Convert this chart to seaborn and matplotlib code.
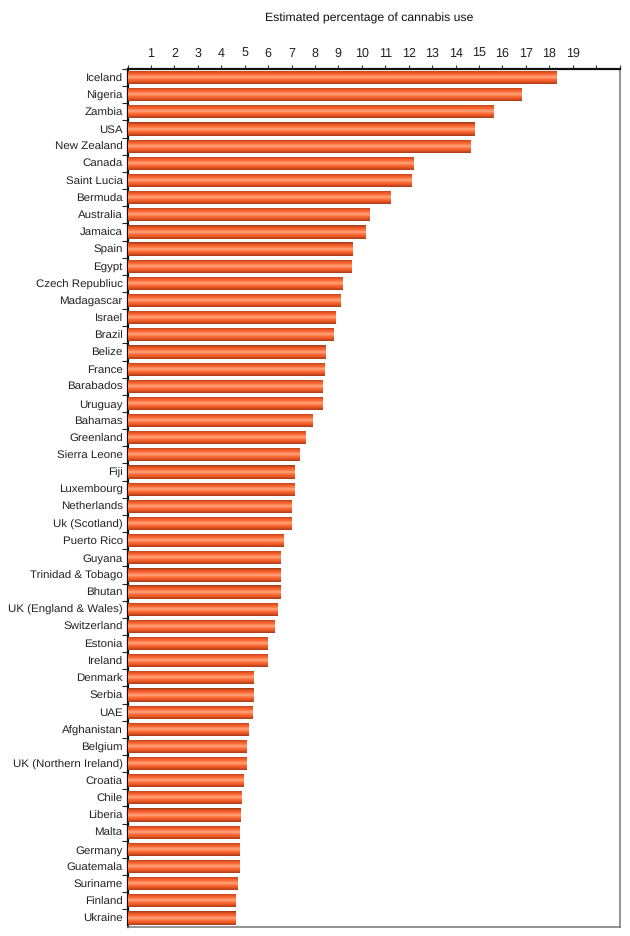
import numpy as np
import pandas as pd
import matplotlib
matplotlib.use("Agg")
import matplotlib.pyplot as plt
from matplotlib.colors import LinearSegmentedColormap
import seaborn as sns

countries = ["Iceland", "Nigeria", "Zambia", "USA", "New Zealand", "Canada", "Saint Lucia",
             "Bermuda", "Australia", "Jamaica", "Spain", "Egypt", "Czech Republiuc", "Madagascar",
             "Israel", "Brazil", "Belize", "France", "Barabados", "Uruguay", "Bahamas", "Greenland",
             "Sierra Leone", "Fiji", "Luxembourg", "Netherlands", "Uk (Scotland)", "Puerto Rico",
             "Guyana", "Trinidad & Tobago", "Bhutan", "UK (England & Wales)", "Switzerland",
             "Estonia", "Ireland", "Denmark", "Serbia", "UAE", "Afghanistan", "Belgium",
             "UK (Northern Ireland)", "Croatia", "Chile", "Liberia", "Malta", "Germany",
             "Guatemala", "Suriname", "Finland", "Ukraine"]
usage = [18.3, 16.8, 15.6, 14.78, 14.6, 12.2, 12.08, 11.22, 10.32, 10.15,
         9.6, 9.55, 9.16, 9.08, 8.87, 8.78, 8.44, 8.4, 8.31, 8.31,
         7.89, 7.59, 7.33, 7.12, 7.12, 6.99, 6.99, 6.65, 6.52, 6.52,
         6.52, 6.39, 6.26, 5.96, 5.96, 5.36, 5.36, 5.32, 5.15, 5.06,
         5.06, 4.94, 4.85, 4.81, 4.76, 4.76, 4.76, 4.68, 4.6, 4.6]
ticks = list(range(0, 22))
tick_labels = [str(t) if 1 <= t <= 19 else "" for t in ticks]

df = pd.DataFrame({"country": countries, "usage": usage})

sns.set_style("white")
plt.rcParams["font.family"] = ["Liberation Sans", "DejaVu Sans"]
plt.rcParams["text.hinting"] = "no_hinting"

fig = plt.figure(figsize=(6.3, 9.36), dpi=100)
ax = fig.add_axes([127.5 / 630, 1 - 926.5 / 936, (619.5 - 127.5) / 630, (926.5 - 69) / 936])

sns.barplot(data=df, y="country", x="usage", color="#f0683c", width=0.77, ax=ax, orient="h")

# shaded tube look on every bar
tube = LinearSegmentedColormap.from_list("tube", ["#a03a14", "#e65424", "#ff6e38", "#ffa884",
                                                  "#ff6e38", "#e65424", "#a83c16"])
grad = np.linspace(0, 1, 64).reshape(-1, 1)
for bar in ax.patches:
    x0, y0, w, h = bar.get_x(), bar.get_y(), bar.get_width(), bar.get_height()
    im = ax.imshow(grad, cmap=tube, aspect="auto", extent=(x0, x0 + w, y0 + h, y0), zorder=3)
    im.set_clip_path(bar)

ax.set_xlim(0, 21)
ax.set_ylim(len(countries) - 0.5, -0.5)
ax.set_xlabel("")
ax.set_ylabel("")

ax.xaxis.tick_top()
ax.set_xticks(ticks)
ax.set_xticklabels(tick_labels, fontsize=9, color="#222222")
ax.tick_params(axis="x", length=3, width=0.8, pad=4, color="#333333", top=True, bottom=False)
ax.set_yticks(np.arange(len(countries)) - 0.5, minor=True)
ax.tick_params(axis="y", which="minor", length=4, width=0.8, color="#222222", left=True)
ax.tick_params(axis="y", which="major", length=0, pad=3.5, labelsize=8.25, labelcolor="#222222")

for side, col, lw in [("top", "#111111", 1.6), ("left", "#111111", 1.6),
                      ("right", "#808080", 1.2), ("bottom", "#808080", 1.2)]:
    ax.spines[side].set_visible(True)
    ax.spines[side].set_color(col)
    ax.spines[side].set_linewidth(lw)

fig.text(369.5 / 630, 1 - 18 / 936, "Estimated percentage of cannabis use", ha="center", va="center",
         fontsize=8.8, color="#111111")

fig.savefig("out.png", dpi=100)
